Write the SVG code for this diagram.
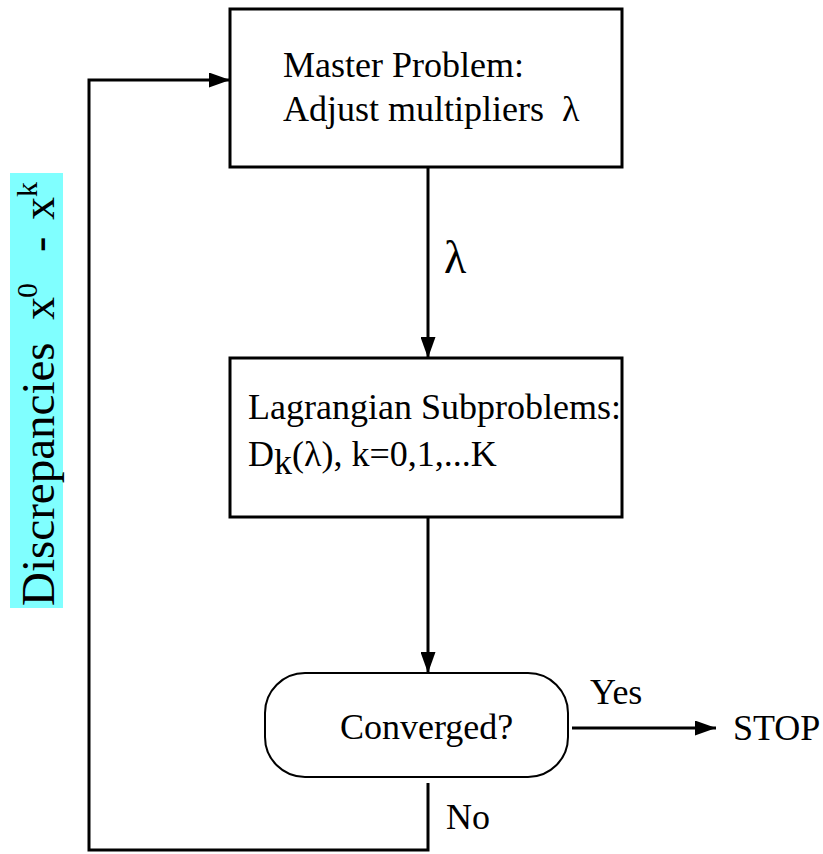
<svg xmlns="http://www.w3.org/2000/svg" width="823" height="854" viewBox="0 0 823 854">
<defs>
<marker id="ah" viewBox="0 0 21 15" refX="21" refY="7.5" markerWidth="21" markerHeight="15" markerUnits="userSpaceOnUse" orient="auto">
<path d="M0,0 L21,7.5 L0,15 Z" fill="#000"/>
</marker>
<style>
text{font-family:"Liberation Serif","Times New Roman",serif;fill:#000}
.t{font-size:36px}
.box{fill:#fff;stroke:#000;stroke-width:3}
.rbox{fill:#fff;stroke:#000;stroke-width:2}
.ln{fill:none;stroke:#000;stroke-width:3}
</style>
</defs>
<rect width="823" height="854" fill="#fff"/>
<g id="connectors">
<line class="ln" x1="428" y1="167" x2="428" y2="358" marker-end="url(#ah)"/>
<line class="ln" x1="428" y1="512" x2="428" y2="673" marker-end="url(#ah)"/>
<line class="ln" x1="572" y1="728" x2="716" y2="728" marker-end="url(#ah)"/>
<polyline class="ln" points="428,783 428,850 89,850 89,80 230,80" marker-end="url(#ah)"/>
<text x="444" y="273" style="font-size:46px">λ</text>
<text x="590" y="704" class="t">Yes</text>
<text x="446" y="829" class="t">No</text>
</g>
<g id="master">
<rect class="box" x="230" y="9" width="392" height="158"/>
<text x="283" y="77" class="t">Master Problem:</text>
<text x="283" y="121" class="t">Adjust multipliers&#160; λ</text>
</g>
<g id="lagrangian">
<rect class="box" x="230" y="358" width="392" height="159"/>
<text x="248" y="419" class="t">Lagrangian Subproblems:</text>
<text x="248" y="466" class="t">D<tspan dy="8">k</tspan><tspan dy="-8">(λ), k=0,1,...K</tspan></text>
</g>
<g id="converged">
<rect class="rbox" x="265" y="673" width="303" height="104" rx="40" ry="40"/>
<text x="340" y="739" class="t">Converged?</text>
</g>
<g id="stop">
<text x="733" y="740" class="t">STOP</text>
</g>
<g id="discrepancies">
<rect x="10" y="173" width="53" height="435" fill="#80ffff"/>
<g transform="translate(54,606) rotate(-90)">
<text x="0" y="0" style="font-size:47px">Discrepancies</text>
<text x="286" y="0" style="font-size:46px">x</text>
<text x="308" y="-17" style="font-size:30px">0</text>
<text x="354" y="0" style="font-size:46px">-</text>
<text x="386" y="0" style="font-size:46px">x</text>
<text x="409" y="-17" style="font-size:30px">k</text>
</g>
</g>
</svg>
